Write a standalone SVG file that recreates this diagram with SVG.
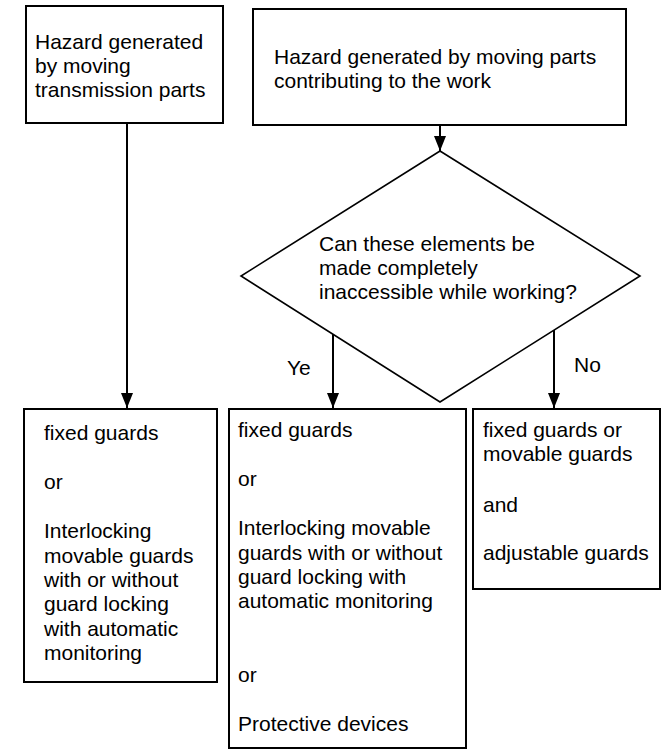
<svg xmlns="http://www.w3.org/2000/svg" width="661" height="749" viewBox="0 0 661 749">
<style>
  .box{fill:#fff;stroke:#000;stroke-width:2}
  .dia{fill:#fff;stroke:#000;stroke-width:1.6}
  .t{font-family:"Liberation Sans",Arial,sans-serif;font-size:21px;fill:#000}
  .con{fill:none;stroke:#000;stroke-width:2;marker-end:url(#arr)}
</style>
<defs>
  <marker id="arr" markerWidth="15" markerHeight="12" refX="15" refY="6" orient="auto" markerUnits="userSpaceOnUse" viewBox="0 0 15 12">
    <path d="M0,0 L15,6 L0,12 Z" fill="#000"/>
  </marker>
</defs>
<rect width="661" height="749" fill="#fff"/>
<g id="n1">
  <rect class="box" x="26" y="6" width="197" height="117"/>
  <text class="t" x="35" y="49">Hazard generated</text>
  <text class="t" x="35" y="73">by moving</text>
  <text class="t" x="35" y="97">transmission parts</text>
</g>
<g id="n2">
  <rect class="box" x="253" y="9" width="373" height="116"/>
  <text class="t" x="274" y="64">Hazard generated by moving parts</text>
  <text class="t" x="274" y="88">contributing to the work</text>
</g>
<g id="n3">
  <polygon class="dia" points="440,151 640,276 440,402 241,276"/>
  <text class="t" x="319" y="251">Can these elements be</text>
  <text class="t" x="319" y="275">made completely</text>
  <text class="t" x="319" y="299">inaccessible while working?</text>
</g>
<g id="n4">
  <rect class="box" x="24" y="409" width="193" height="273"/>
  <text class="t" x="44" y="440">fixed guards</text>
  <text class="t" x="44" y="489">or</text>
  <text class="t" x="44" y="538">Interlocking</text>
  <text class="t" x="44" y="563">movable guards</text>
  <text class="t" x="44" y="587">with or without</text>
  <text class="t" x="44" y="611">guard locking</text>
  <text class="t" x="44" y="636">with automatic</text>
  <text class="t" x="44" y="660">monitoring</text>
</g>
<g id="n5">
  <rect class="box" x="229" y="409" width="237" height="339"/>
  <text class="t" x="238" y="437">fixed guards</text>
  <text class="t" x="238" y="486">or</text>
  <text class="t" x="238" y="535">Interlocking movable</text>
  <text class="t" x="238" y="560">guards with or without</text>
  <text class="t" x="238" y="584">guard locking with</text>
  <text class="t" x="238" y="608">automatic monitoring</text>
  <text class="t" x="238" y="682">or</text>
  <text class="t" x="238" y="731">Protective devices</text>
</g>
<g id="n6">
  <rect class="box" x="473" y="409" width="187" height="180"/>
  <text class="t" x="483" y="437">fixed guards or</text>
  <text class="t" x="483" y="461">movable guards</text>
  <text class="t" x="483" y="512">and</text>
  <text class="t" x="483" y="560">adjustable guards</text>
</g>
<g id="connectors">
  <line class="con" x1="440" y1="125" x2="440" y2="151"/>
  <line class="con" x1="127" y1="123" x2="127" y2="408"/>
  <line class="con" x1="333" y1="334" x2="333" y2="408"/>
  <line class="con" x1="554" y1="330" x2="554" y2="408"/>
  <text class="t" x="287" y="375">Ye</text>
  <text class="t" x="574" y="372">No</text>
</g>
</svg>
